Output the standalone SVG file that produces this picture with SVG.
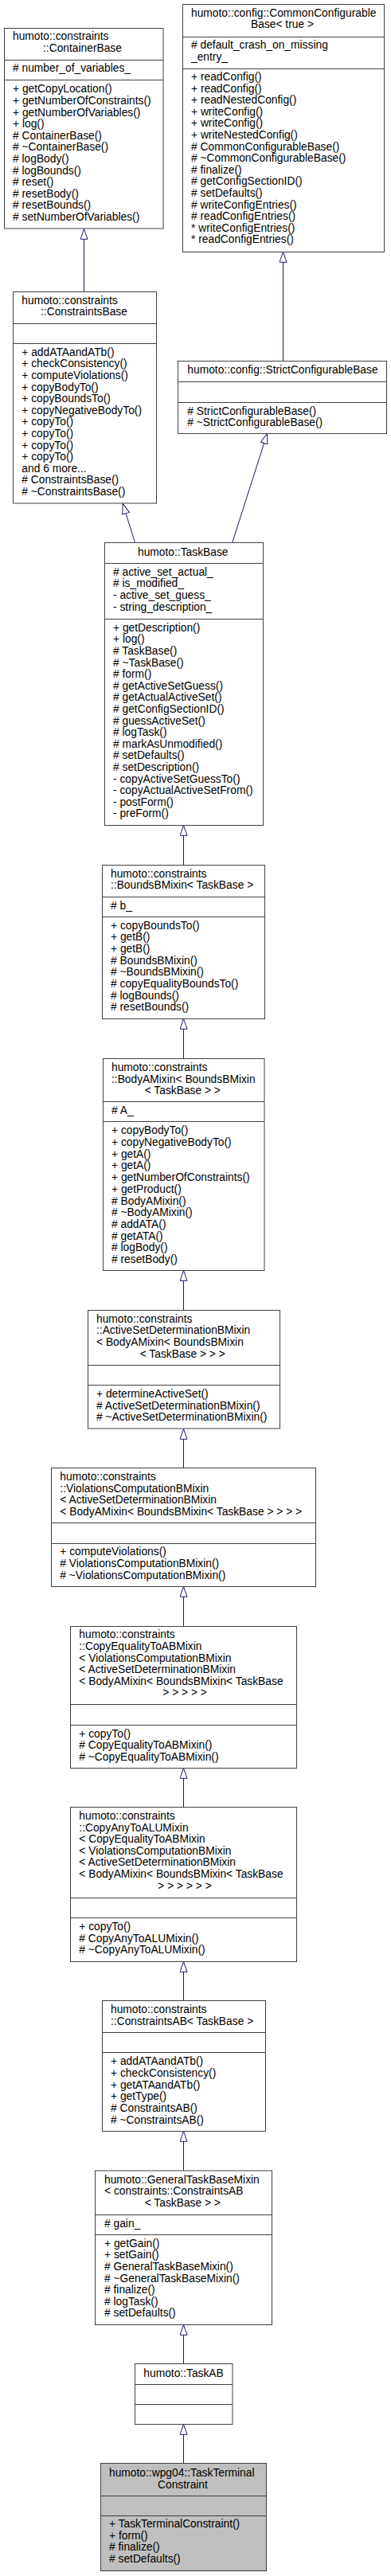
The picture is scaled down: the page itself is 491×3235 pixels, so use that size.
<svg xmlns="http://www.w3.org/2000/svg" width="491" height="3235" viewBox="0 0 491 3235">
<style>
.box{fill:#ffffff;stroke:#404040;stroke-width:1}
.hl{fill:#bfbfbf;stroke:#404040;stroke-width:1}
.sep{stroke:#404040;stroke-width:1;fill:none}
text{font-family:"Liberation Sans",Arial,Helvetica,sans-serif;font-size:13.8px;fill:#000000}
.edge{fill:none;stroke:#191970;stroke-width:1}
</style>
<defs>
<marker id="inh" viewBox="0 0 14 10" refX="13.3" refY="5" markerWidth="14" markerHeight="10" markerUnits="userSpaceOnUse" orient="auto">
<path d="M0.5,0.5 L13.3,5 L0.5,9.5 Z" fill="#ffffff" stroke="#191970" stroke-width="1"/>
</marker>
</defs>
<rect width="491" height="3235" fill="#ffffff"/>

<g id="connectors">
<path class="edge" d="M105.5,366 L105.5,287.5" marker-end="url(#inh)"/>
<path class="edge" d="M355.5,453.5 L355.5,316.5" marker-end="url(#inh)"/>
<path class="edge" d="M169.5,681.5 L154.3,632.5" marker-end="url(#inh)"/>
<path class="edge" d="M291.7,681.5 L335.5,544.5" marker-end="url(#inh)"/>
<path class="edge" d="M230.5,1086 L230.5,1036.5" marker-end="url(#inh)"/>
<path class="edge" d="M230.5,1329 L230.5,1279.5" marker-end="url(#inh)"/>
<path class="edge" d="M230.5,1645 L230.5,1595.5" marker-end="url(#inh)"/>
<path class="edge" d="M230.5,1843.5 L230.5,1794.5" marker-end="url(#inh)"/>
<path class="edge" d="M230.5,2042.5 L230.5,1992.5" marker-end="url(#inh)"/>
<path class="edge" d="M230.5,2269.5 L230.5,2220.5" marker-end="url(#inh)"/>
<path class="edge" d="M230.5,2512.5 L230.5,2463.5" marker-end="url(#inh)"/>
<path class="edge" d="M230.5,2726 L230.5,2676.5" marker-end="url(#inh)"/>
<path class="edge" d="M230.5,2968.5 L230.5,2919.5" marker-end="url(#inh)"/>
<path class="edge" d="M230.5,3093.5 L230.5,3044.5" marker-end="url(#inh)"/>
</g>

<g id="ContainerBase">
<rect class="box" x="5.5" y="35.5" width="199.5" height="251.5"/>
<text x="16" y="50">humoto::constraints</text>
<text x="54" y="64.6">::ContainerBase</text>
<line class="sep" x1="5.5" y1="75.5" x2="205" y2="75.5"/>
<text x="16" y="90.3"># number_of_variables_</text>
<line class="sep" x1="5.5" y1="100.5" x2="205" y2="100.5"/>
<text x="16" y="116.3"><tspan x="16">+ getCopyLocation()</tspan><tspan x="16" dy="14.6">+ getNumberOfConstraints()</tspan><tspan x="16" dy="14.6">+ getNumberOfVariables()</tspan><tspan x="16" dy="14.6">+ log()</tspan><tspan x="16" dy="14.6"># ContainerBase()</tspan><tspan x="16" dy="14.6"># ~ContainerBase()</tspan><tspan x="16" dy="14.6"># logBody()</tspan><tspan x="16" dy="14.6"># logBounds()</tspan><tspan x="16" dy="14.6"># reset()</tspan><tspan x="16" dy="14.6"># resetBody()</tspan><tspan x="16" dy="14.6"># resetBounds()</tspan><tspan x="16" dy="14.6"># setNumberOfVariables()</tspan></text>
</g>

<g id="CommonConfigurableBase">
<rect class="box" x="229.5" y="5.5" width="253" height="311"/>
<text x="240" y="20.7">humoto::config::CommonConfigurable</text>
<text x="315" y="35.3">Base&lt; true &gt;</text>
<line class="sep" x1="229.5" y1="46.5" x2="482.5" y2="46.5"/>
<text x="240" y="61.3"><tspan x="240"># default_crash_on_missing</tspan><tspan x="240" dy="14.6">_entry_</tspan></text>
<line class="sep" x1="229.5" y1="86.5" x2="482.5" y2="86.5"/>
<text x="240" y="101"><tspan x="240">+ readConfig()</tspan><tspan x="240" dy="14.6">+ readConfig()</tspan><tspan x="240" dy="14.6">+ readNestedConfig()</tspan><tspan x="240" dy="14.6">+ writeConfig()</tspan><tspan x="240" dy="14.6">+ writeConfig()</tspan><tspan x="240" dy="14.6">+ writeNestedConfig()</tspan><tspan x="240" dy="14.6"># CommonConfigurableBase()</tspan><tspan x="240" dy="14.6"># ~CommonConfigurableBase()</tspan><tspan x="240" dy="14.6"># finalize()</tspan><tspan x="240" dy="14.6"># getConfigSectionID()</tspan><tspan x="240" dy="14.6"># setDefaults()</tspan><tspan x="240" dy="14.6"># writeConfigEntries()</tspan><tspan x="240" dy="14.6"># readConfigEntries()</tspan><tspan x="240" dy="14.6">* writeConfigEntries()</tspan><tspan x="240" dy="14.6">* readConfigEntries()</tspan></text>
</g>

<g id="ConstraintsBase">
<rect class="box" x="16.5" y="366.5" width="180" height="265.5"/>
<text x="27.3" y="381.7">humoto::constraints</text>
<text x="51" y="396.3">::ConstraintsBase</text>
<line class="sep" x1="16.5" y1="406.5" x2="196.5" y2="406.5"/>
<line class="sep" x1="16.5" y1="431.5" x2="196.5" y2="431.5"/>
<text x="27.3" y="446.7"><tspan x="27.3">+ addATAandATb()</tspan><tspan x="27.3" dy="14.6">+ checkConsistency()</tspan><tspan x="27.3" dy="14.6">+ computeViolations()</tspan><tspan x="27.3" dy="14.6">+ copyBodyTo()</tspan><tspan x="27.3" dy="14.6">+ copyBoundsTo()</tspan><tspan x="27.3" dy="14.6">+ copyNegativeBodyTo()</tspan><tspan x="27.3" dy="14.6">+ copyTo()</tspan><tspan x="27.3" dy="14.6">+ copyTo()</tspan><tspan x="27.3" dy="14.6">+ copyTo()</tspan><tspan x="27.3" dy="14.6">+ copyTo()</tspan><tspan x="27.3" dy="14.6">and 6 more...</tspan><tspan x="27.3" dy="14.6"># ConstraintsBase()</tspan><tspan x="27.3" dy="14.6"># ~ConstraintsBase()</tspan></text>
</g>

<g id="StrictConfigurableBase">
<rect class="box" x="223.5" y="453.5" width="262" height="91"/>
<text x="235.3" y="469.3">humoto::config::StrictConfigurableBase</text>
<line class="sep" x1="223.5" y1="479.5" x2="485.5" y2="479.5"/>
<line class="sep" x1="223.5" y1="505.5" x2="485.5" y2="505.5"/>
<text x="235.3" y="520.7"><tspan x="235.3"># StrictConfigurableBase()</tspan><tspan x="235.3" dy="14.6"># ~StrictConfigurableBase()</tspan></text>
</g>

<g id="TaskBase">
<rect class="box" x="131.5" y="681.5" width="199" height="355"/>
<text x="173" y="697.7">humoto::TaskBase</text>
<line class="sep" x1="131.5" y1="707.5" x2="330.5" y2="707.5"/>
<text x="142" y="722.7"><tspan x="142"># active_set_actual_</tspan><tspan x="142" dy="14.6"># is_modified_</tspan><tspan x="142" dy="14.6">- active_set_guess_</tspan><tspan x="142" dy="14.6">- string_description_</tspan></text>
<line class="sep" x1="131.5" y1="777.5" x2="330.5" y2="777.5"/>
<text x="142" y="792.7"><tspan x="142">+ getDescription()</tspan><tspan x="142" dy="14.6">+ log()</tspan><tspan x="142" dy="14.6"># TaskBase()</tspan><tspan x="142" dy="14.6"># ~TaskBase()</tspan><tspan x="142" dy="14.6"># form()</tspan><tspan x="142" dy="14.6"># getActiveSetGuess()</tspan><tspan x="142" dy="14.6"># getActualActiveSet()</tspan><tspan x="142" dy="14.6"># getConfigSectionID()</tspan><tspan x="142" dy="14.6"># guessActiveSet()</tspan><tspan x="142" dy="14.6"># logTask()</tspan><tspan x="142" dy="14.6"># markAsUnmodified()</tspan><tspan x="142" dy="14.6"># setDefaults()</tspan><tspan x="142" dy="14.6"># setDescription()</tspan><tspan x="142" dy="14.6">- copyActiveSetGuessTo()</tspan><tspan x="142" dy="14.6">- copyActualActiveSetFrom()</tspan><tspan x="142" dy="14.6">- postForm()</tspan><tspan x="142" dy="14.6">- preForm()</tspan></text>
</g>

<g id="BoundsBMixin">
<rect class="box" x="128.5" y="1086.5" width="204" height="193"/>
<text x="139" y="1101.7"><tspan x="139">humoto::constraints</tspan><tspan x="139" dy="14.6">::BoundsBMixin&lt; TaskBase &gt;</tspan></text>
<line class="sep" x1="128.5" y1="1126.5" x2="332.5" y2="1126.5"/>
<text x="139" y="1141.7"># b_</text>
<line class="sep" x1="128.5" y1="1151.5" x2="332.5" y2="1151.5"/>
<text x="139" y="1166.7"><tspan x="139">+ copyBoundsTo()</tspan><tspan x="139" dy="14.65">+ getB()</tspan><tspan x="139" dy="14.65">+ getB()</tspan><tspan x="139" dy="14.65"># BoundsBMixin()</tspan><tspan x="139" dy="14.65"># ~BoundsBMixin()</tspan><tspan x="139" dy="14.65"># copyEqualityBoundsTo()</tspan><tspan x="139" dy="14.65"># logBounds()</tspan><tspan x="139" dy="14.65"># resetBounds()</tspan></text>
</g>

<g id="BodyAMixin">
<rect class="box" x="129.5" y="1329.5" width="202.5" height="266"/>
<text x="140" y="1345"><tspan x="140">humoto::constraints</tspan><tspan x="140" dy="14.6">::BodyAMixin&lt; BoundsBMixin</tspan><tspan x="181.7" dy="14.6">&lt; TaskBase &gt; &gt;</tspan></text>
<line class="sep" x1="129.5" y1="1383.5" x2="332" y2="1383.5"/>
<text x="140" y="1399.3"># A_</text>
<line class="sep" x1="129.5" y1="1408.5" x2="332" y2="1408.5"/>
<text x="140" y="1424.3"><tspan x="140">+ copyBodyTo()</tspan><tspan x="140" dy="14.7">+ copyNegativeBodyTo()</tspan><tspan x="140" dy="14.7">+ getA()</tspan><tspan x="140" dy="14.7">+ getA()</tspan><tspan x="140" dy="14.7">+ getNumberOfConstraints()</tspan><tspan x="140" dy="14.7">+ getProduct()</tspan><tspan x="140" dy="14.7"># BodyAMixin()</tspan><tspan x="140" dy="14.7"># ~BodyAMixin()</tspan><tspan x="140" dy="14.7"># addATA()</tspan><tspan x="140" dy="14.7"># getATA()</tspan><tspan x="140" dy="14.7"># logBody()</tspan><tspan x="140" dy="14.7"># resetBody()</tspan></text>
</g>

<g id="ActiveSetDeterminationBMixin">
<rect class="box" x="110.5" y="1645.5" width="241" height="148.5"/>
<text x="121" y="1660.7"><tspan x="121">humoto::constraints</tspan><tspan x="121" dy="14.6">::ActiveSetDeterminationBMixin</tspan><tspan x="121" dy="14.6">&lt; BodyAMixin&lt; BoundsBMixin</tspan><tspan x="175.7" dy="14.6">&lt; TaskBase &gt; &gt; &gt;</tspan></text>
<line class="sep" x1="110.5" y1="1714.5" x2="351.5" y2="1714.5"/>
<line class="sep" x1="110.5" y1="1739.5" x2="351.5" y2="1739.5"/>
<text x="121" y="1755"><tspan x="121">+ determineActiveSet()</tspan><tspan x="121" dy="14.6"># ActiveSetDeterminationBMixin()</tspan><tspan x="121" dy="14.6"># ~ActiveSetDeterminationBMixin()</tspan></text>
</g>

<g id="ViolationsComputationBMixin">
<rect class="box" x="64.5" y="1843.5" width="332" height="149"/>
<text x="75.3" y="1859"><tspan x="75.3">humoto::constraints</tspan><tspan x="75.3" dy="14.6">::ViolationsComputationBMixin</tspan><tspan x="75.3" dy="14.6">&lt; ActiveSetDeterminationBMixin</tspan><tspan x="75.3" dy="14.6">&lt; BodyAMixin&lt; BoundsBMixin&lt; TaskBase &gt; &gt; &gt; &gt;</tspan></text>
<line class="sep" x1="64.5" y1="1912.5" x2="396.5" y2="1912.5"/>
<line class="sep" x1="64.5" y1="1938.5" x2="396.5" y2="1938.5"/>
<text x="75.3" y="1953.3"><tspan x="75.3">+ computeViolations()</tspan><tspan x="75.3" dy="14.6"># ViolationsComputationBMixin()</tspan><tspan x="75.3" dy="14.6"># ~ViolationsComputationBMixin()</tspan></text>
</g>

<g id="CopyEqualityToABMixin">
<rect class="box" x="88.5" y="2042.5" width="284" height="178"/>
<text x="99.3" y="2057.3"><tspan x="99.3">humoto::constraints</tspan><tspan x="99.3" dy="14.6">::CopyEqualityToABMixin</tspan><tspan x="99.3" dy="14.6">&lt; ViolationsComputationBMixin</tspan><tspan x="99.3" dy="14.6">&lt; ActiveSetDeterminationBMixin</tspan><tspan x="99.3" dy="14.6">&lt; BodyAMixin&lt; BoundsBMixin&lt; TaskBase</tspan><tspan x="204.3" dy="14.6">&gt; &gt; &gt; &gt; &gt;</tspan></text>
<line class="sep" x1="88.5" y1="2140.5" x2="372.5" y2="2140.5"/>
<line class="sep" x1="88.5" y1="2166.5" x2="372.5" y2="2166.5"/>
<text x="99.3" y="2181.7"><tspan x="99.3">+ copyTo()</tspan><tspan x="99.3" dy="14.6"># CopyEqualityToABMixin()</tspan><tspan x="99.3" dy="14.6"># ~CopyEqualityToABMixin()</tspan></text>
</g>

<g id="CopyAnyToALUMixin">
<rect class="box" x="88.5" y="2269.5" width="284" height="194"/>
<text x="99.3" y="2285"><tspan x="99.3">humoto::constraints</tspan><tspan x="99.3" dy="14.6">::CopyAnyToALUMixin</tspan><tspan x="99.3" dy="14.6">&lt; CopyEqualityToABMixin</tspan><tspan x="99.3" dy="14.6">&lt; ViolationsComputationBMixin</tspan><tspan x="99.3" dy="14.6">&lt; ActiveSetDeterminationBMixin</tspan><tspan x="99.3" dy="14.6">&lt; BodyAMixin&lt; BoundsBMixin&lt; TaskBase</tspan><tspan x="198.3" dy="14.6">&gt; &gt; &gt; &gt; &gt; &gt;</tspan></text>
<line class="sep" x1="88.5" y1="2383.5" x2="372.5" y2="2383.5"/>
<line class="sep" x1="88.5" y1="2408.5" x2="372.5" y2="2408.5"/>
<text x="99.3" y="2424"><tspan x="99.3">+ copyTo()</tspan><tspan x="99.3" dy="14.6"># CopyAnyToALUMixin()</tspan><tspan x="99.3" dy="14.6"># ~CopyAnyToALUMixin()</tspan></text>
</g>

<g id="ConstraintsAB">
<rect class="box" x="128.5" y="2512.5" width="205" height="164"/>
<text x="139" y="2528.3"><tspan x="139">humoto::constraints</tspan><tspan x="139" dy="14.6">::ConstraintsAB&lt; TaskBase &gt;</tspan></text>
<line class="sep" x1="128.5" y1="2552.5" x2="333.5" y2="2552.5"/>
<line class="sep" x1="128.5" y1="2577.5" x2="333.5" y2="2577.5"/>
<text x="139" y="2593.3"><tspan x="139">+ addATAandATb()</tspan><tspan x="139" dy="14.65">+ checkConsistency()</tspan><tspan x="139" dy="14.65">+ getATAandATb()</tspan><tspan x="139" dy="14.65">+ getType()</tspan><tspan x="139" dy="14.65"># ConstraintsAB()</tspan><tspan x="139" dy="14.65"># ~ConstraintsAB()</tspan></text>
</g>

<g id="GeneralTaskBaseMixin">
<rect class="box" x="119.5" y="2726" width="222" height="193.5"/>
<text x="131" y="2741.7"><tspan x="131">humoto::GeneralTaskBaseMixin</tspan><tspan x="131" dy="14.6">&lt; constraints::ConstraintsAB</tspan><tspan x="181.7" dy="14.6">&lt; TaskBase &gt; &gt;</tspan></text>
<line class="sep" x1="119.5" y1="2781.5" x2="341.5" y2="2781.5"/>
<text x="131" y="2796.7"># gain_</text>
<line class="sep" x1="119.5" y1="2806.5" x2="341.5" y2="2806.5"/>
<text x="131" y="2821.7"><tspan x="131">+ getGain()</tspan><tspan x="131" dy="14.6">+ setGain()</tspan><tspan x="131" dy="14.6"># GeneralTaskBaseMixin()</tspan><tspan x="131" dy="14.6"># ~GeneralTaskBaseMixin()</tspan><tspan x="131" dy="14.6"># finalize()</tspan><tspan x="131" dy="14.6"># logTask()</tspan><tspan x="131" dy="14.6"># setDefaults()</tspan></text>
</g>

<g id="TaskAB">
<rect class="box" x="169.5" y="2968.5" width="122.5" height="76"/>
<text x="180.3" y="2985">humoto::TaskAB</text>
<line class="sep" x1="169.5" y1="2994.5" x2="292" y2="2994.5"/>
<line class="sep" x1="169.5" y1="3019.5" x2="292" y2="3019.5"/>
</g>

<g id="TaskTerminalConstraint">
<rect class="hl" x="126.5" y="3093.5" width="208" height="135"/>
<text x="137" y="3110">humoto::wpg04::TaskTerminal</text>
<text x="198" y="3124.6">Constraint</text>
<line class="sep" x1="126.5" y1="3134.5" x2="334.5" y2="3134.5"/>
<line class="sep" x1="126.5" y1="3159.5" x2="334.5" y2="3159.5"/>
<text x="137" y="3174"><tspan x="137">+ TaskTerminalConstraint()</tspan><tspan x="137" dy="14.6">+ form()</tspan><tspan x="137" dy="14.6"># finalize()</tspan><tspan x="137" dy="14.6"># setDefaults()</tspan></text>
</g>
</svg>
